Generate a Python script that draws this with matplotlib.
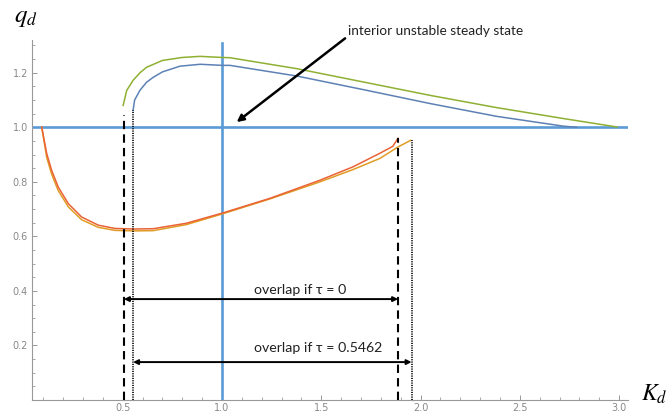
import matplotlib
matplotlib.use("Agg")
import matplotlib.pyplot as plt
from matplotlib.ticker import MultipleLocator, FixedLocator

plt.rcParams['mathtext.fontset'] = 'stix'

# ---- data ----
green_K = [0.502, 0.52, 0.552, 0.587, 0.62, 0.70, 0.80, 0.89, 1.0, 1.04, 1.376, 1.712, 2.048, 2.384, 2.72, 2.99]
green_q = [1.08, 1.135, 1.172, 1.200, 1.22, 1.245, 1.256, 1.26, 1.256, 1.255, 1.215, 1.166, 1.117, 1.072, 1.032, 1.001]

blue_K = [0.552, 0.56, 0.587, 0.62, 0.653, 0.70, 0.788, 0.89, 1.0, 1.04, 1.376, 1.712, 2.048, 2.384, 2.72, 2.787]
blue_q = [1.062, 1.10, 1.136, 1.165, 1.183, 1.203, 1.224, 1.231, 1.227, 1.227, 1.188, 1.138, 1.087, 1.040, 1.004, 1.0]

red_K = [0.092, 0.117, 0.142, 0.175, 0.226, 0.293, 0.377, 0.461, 0.562, 0.653, 0.82, 1.0, 1.24,
         1.494, 1.66, 1.796, 1.86, 1.887]
red_q = [1.001, 0.904, 0.842, 0.781, 0.720, 0.671, 0.641, 0.629, 0.627, 0.628, 0.648, 0.685, 0.739,
         0.806, 0.855, 0.905, 0.93, 0.96]

yellow_K = [0.092, 0.117, 0.142, 0.175, 0.226, 0.293, 0.377, 0.461, 0.562, 0.653, 0.82, 1.0, 1.24,
            1.494, 1.66, 1.796, 1.887, 1.95]
yellow_q = [1.0, 0.890, 0.828, 0.768, 0.708, 0.661, 0.633, 0.622, 0.620, 0.621, 0.643, 0.682, 0.737,
            0.800, 0.845, 0.886, 0.928, 0.952]

steady_K = 1.0
steady_q = 1.0

overlap0 = (0.506, 1.887)        # tau = 0
overlap1 = (0.552, 1.955)        # tau = 0.5462
overlap0_top = (1.045, 0.96)
overlap1_top = (1.062, 0.952)
arrow_q = (0.37, 0.139)

x_ticks = [0.5, 1.0, 1.5, 2.0, 2.5, 3.0]
y_ticks = [0.2, 0.4, 0.6, 0.8, 1.0, 1.2]

label0 = "overlap if τ = 0"
label1 = "overlap if τ = 0.5462"
annot_text = "interior unstable steady state"

# ---- figure ----
fig = plt.figure(figsize=(6.68, 4.12), dpi=100)
ax = fig.add_axes([32/668, 12/412, 596/668, 360/412])
ax.set_xlim(0.043, 3.045)
ax.set_ylim(0, 1.32)

line_blue = '#5B9BD5'
ax.axhline(steady_q, color=line_blue, lw=1.9, zorder=2)
ax.plot([steady_K, steady_K], [0, 1.31], color=line_blue, lw=1.9, zorder=2)

ax.plot(green_K, green_q, color='#8FB032', lw=1.1, zorder=3)
ax.plot(blue_K, blue_q, color='#5E81B5', lw=1.1, zorder=3)
ax.plot(yellow_K, yellow_q, color='#E09C24', lw=1.1, zorder=3)
ax.plot(red_K, red_q, color='#EB6235', lw=1.1, zorder=4)

# vertical markers
ax.plot([overlap0[0]] * 2, [0, overlap0_top[0]], color='black', lw=1.5, ls=(0, (4, 2.5)), zorder=5)
ax.plot([overlap0[1]] * 2, [0, overlap0_top[1]], color='black', lw=1.5, ls=(0, (4, 2.5)), zorder=5)
ax.plot([overlap1[0]] * 2, [0, overlap1_top[0]], color='black', lw=1.2, ls=(0, (0.7, 0.7)), zorder=5)
ax.plot([overlap1[1]] * 2, [0, overlap1_top[1]], color='black', lw=1.2, ls=(0, (0.7, 0.7)), zorder=5)

# double arrows
for (x0, x1), yq in zip([overlap0, overlap1], arrow_q):
    ax.annotate('', xy=(x1, yq), xytext=(x0, yq),
                arrowprops=dict(arrowstyle='<|-|>', color='black', lw=1.4,
                                mutation_scale=7, shrinkA=0, shrinkB=0), zorder=6)

txt_font = ['Lato', 'DejaVu Sans']
ax.text(1.161, 0.403, label0, fontsize=10.2, family=txt_font, color='#222222', va='center', ha='left')
ax.text(1.161, 0.19, label1, fontsize=10.2, family=txt_font, color='#222222', va='center', ha='left')

ax.annotate('', xy=(1.074, 1.019), xytext=(1.62, 1.326),
            arrowprops=dict(arrowstyle='-|>', color='black', lw=1.8,
                            mutation_scale=10, shrinkA=0, shrinkB=0),
            annotation_clip=False, zorder=6)
ax.text(1.635, 1.352, annot_text, fontsize=9.8, family=txt_font, color='#222222',
        va='center', ha='left', clip_on=False)

# axes styling
for s in ['top', 'right']:
    ax.spines[s].set_visible(False)
for s in ['left', 'bottom']:
    ax.spines[s].set_color('#999999')
    ax.spines[s].set_linewidth(0.8)

ax.xaxis.set_major_locator(FixedLocator(x_ticks))
ax.yaxis.set_major_locator(FixedLocator(y_ticks))
ax.xaxis.set_minor_locator(MultipleLocator(0.1))
ax.yaxis.set_minor_locator(MultipleLocator(0.05))
ax.set_xticklabels([f"{v:.1f}" for v in x_ticks])
ax.set_yticklabels([f"{v:.1f}" for v in y_ticks])
ax.tick_params(which='major', direction='in', length=3.5, width=0.7, color='#999999',
               labelsize=7, labelcolor='#888888')
ax.tick_params(which='minor', direction='in', length=2, width=0.6, color='#999999')
ax.tick_params(axis='x', pad=2)
ax.tick_params(axis='y', pad=3)

fig.text(14/668, 1 - 22/412, r'$q_d$', fontsize=18, va='baseline', ha='left')
fig.text(641/668, 1 - 401/412, r'$K_d$', fontsize=17, va='baseline', ha='left')

fig.savefig('out.png', dpi=100)
